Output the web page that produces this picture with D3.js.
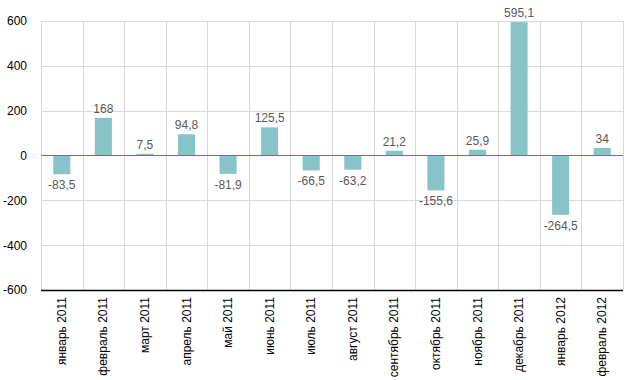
<!DOCTYPE html>
<html>
<head>
<meta charset="utf-8">
<script src="https://cdn.jsdelivr.net/npm/d3@7"></script>
<style>
  body { margin: 0; background: #fff; }
  svg { display: block; font-family: Arial, "Liberation Sans", sans-serif; }
</style>
</head>
<body>
<div id="chart"></div>
<script>
  const months = ["январь 2011", "февраль 2011", "март 2011", "апрель 2011", "май 2011", "июнь 2011",
    "июль 2011", "август 2011", "сентябрь 2011", "октябрь 2011", "ноябрь 2011", "декабрь 2011",
    "январь 2012", "февраль 2012"];
  const values = [-83.5, 168, 7.5, 94.8, -81.9, 125.5, -66.5, -63.2, 21.2, -155.6, 25.9, 595.1, -264.5, 34];
  const yTicks = [-600, -400, -200, 0, 200, 400, 600];

  const width = 630, height = 380;
  const margin = {top: 21, right: 7, bottom: 90, left: 41};

  const svg = d3.select("#chart").append("svg")
    .attr("width", width).attr("height", height);

  const x = d3.scaleBand()
    .domain(months)
    .range([margin.left, width - margin.right])
    .paddingInner(0.59).paddingOuter(0.295);
  const step = x.step();
  const y = d3.scaleLinear()
    .domain([-600, 600])
    .range([height - margin.bottom, margin.top]);

  const fmt = v => String(v).replace(".", ",");

  // grid
  const grid = svg.append("g").attr("stroke", "#d9d9d9").attr("stroke-width", 1);
  grid.selectAll(".h").data(yTicks.filter(t => t !== 0 && t !== -600)).enter().append("line")
    .attr("x1", margin.left).attr("x2", width - margin.right)
    .attr("y1", d => Math.round(y(d)) + 0.5).attr("y2", d => Math.round(y(d)) + 0.5);
  const bounds = d3.range(months.length + 1).map(i => margin.left + i * step);
  grid.selectAll(".v").data(bounds).enter().append("line")
    .attr("x1", d => Math.round(d) + 0.5).attr("x2", d => Math.round(d) + 0.5)
    .attr("y1", margin.top).attr("y2", height - margin.bottom);

  // y axis labels
  const yAxis = d3.axisLeft(y).tickValues(yTicks).tickFormat(d => String(d)).tickSize(0).tickPadding(14);
  svg.append("g")
    .attr("transform", `translate(${margin.left},0)`)
    .call(yAxis)
    .call(g => g.select(".domain").remove())
    .call(g => g.selectAll("text").attr("font-size", 12).attr("fill", "#000")
      .attr("font-family", "Arial, 'Liberation Sans', sans-serif"));

  // bars
  svg.append("g").selectAll("rect").data(values).enter().append("rect")
    .attr("x", (d, i) => x(months[i]))
    .attr("width", x.bandwidth())
    .attr("y", d => y(Math.max(0, d)))
    .attr("height", d => Math.abs(y(d) - y(0)))
    .attr("fill", "#88c3ca");

  // zero line
  svg.append("line")
    .attr("x1", margin.left).attr("x2", width - margin.right)
    .attr("y1", y(0)).attr("y2", y(0))
    .attr("stroke", "#e04a2a").attr("stroke-width", 1.2);

  // bottom axis line
  svg.append("line")
    .attr("x1", margin.left).attr("x2", width - margin.right)
    .attr("y1", y(-600) + 0.5).attr("y2", y(-600) + 0.5)
    .attr("stroke", "#000").attr("stroke-width", 1.5);

  // value labels
  svg.append("g").selectAll("text").data(values).enter().append("text")
    .attr("x", (d, i) => x(months[i]) + x.bandwidth() / 2)
    .attr("y", d => d >= 0 ? y(d) - 5 : y(d) + 15)
    .attr("text-anchor", "middle")
    .attr("font-size", 12)
    .attr("fill", "#595959")
    .text(fmt);

  // x labels
  svg.append("g").selectAll("text").data(months).enter().append("text")
    .attr("transform", d => `translate(${x(d) + x.bandwidth() / 2 + 4},${height - margin.bottom + 7}) rotate(-90)`)
    .attr("text-anchor", "end")
    .attr("font-size", 12)
    .attr("fill", "#000")
    .text(d => d);
</script>
</body>
</html>
